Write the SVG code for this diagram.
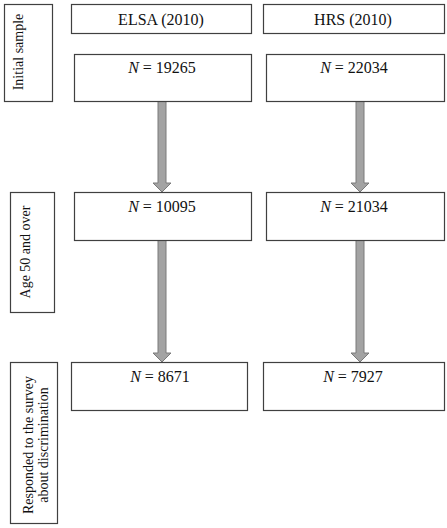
<svg xmlns="http://www.w3.org/2000/svg" width="447" height="528" viewBox="0 0 447 528">
<style>
.box{fill:#fff;stroke:#404040;stroke-width:1.2}
.t{font-family:"Liberation Serif","Times New Roman",serif;font-size:16px;fill:#111;text-anchor:middle}
.v{font-family:"Liberation Serif","Times New Roman",serif;font-size:14px;fill:#111;text-anchor:middle}
.arr{fill:#a3a3a3;stroke:#7a7a7a;stroke-width:1}
</style>
<rect width="447" height="528" fill="#fff"/>
<g id="connectors">
<polygon class="arr" points="158,101 166,101 166,183 171,183 162,192 153,183 158,183"/>
<polygon class="arr" points="356,101 364,101 364,183 369,183 360,192 351,183 356,183"/>
<polygon class="arr" points="158,240 166,240 166,353 171,353 162,362 153,353 158,353"/>
<polygon class="arr" points="356,240 364,240 364,353 369,353 360,362 351,353 356,353"/>
</g>
<g id="label-initial">
<rect class="box" x="4.5" y="4.5" width="48" height="97"/>
<text class="v" transform="translate(23,52) rotate(-90)">Initial sample</text>
</g>
<g id="label-age">
<rect class="box" x="10.5" y="192.5" width="44" height="120"/>
<text class="v" transform="translate(30,252) rotate(-90)">Age 50 and over</text>
</g>
<g id="label-responded">
<rect class="box" x="10.5" y="362.5" width="47" height="161"/>
<text class="v" transform="translate(33,445) rotate(-90)">Responded to the survey</text>
<text class="v" transform="translate(48,445) rotate(-90)">about discrimination</text>
</g>
<g id="elsa-header">
<rect class="box" x="71.5" y="4.5" width="180" height="29"/>
<text class="t" x="161" y="25">ELSA (2010)</text>
</g>
<g id="hrs-header">
<rect class="box" x="263.5" y="4.5" width="181" height="29"/>
<text class="t" x="353" y="25">HRS (2010)</text>
</g>
<g id="elsa-initial">
<rect class="box" x="74.5" y="54.5" width="177" height="47"/>
<text class="t" x="162" y="73"><tspan font-style="italic">N</tspan> = 19265</text>
</g>
<g id="hrs-initial">
<rect class="box" x="266.5" y="54.5" width="178" height="47"/>
<text class="t" x="354" y="73"><tspan font-style="italic">N</tspan> = 22034</text>
</g>
<g id="elsa-age">
<rect class="box" x="74.5" y="192.5" width="177" height="48"/>
<text class="t" x="162" y="212"><tspan font-style="italic">N</tspan> = 10095</text>
</g>
<g id="hrs-age">
<rect class="box" x="266.5" y="192.5" width="178" height="48"/>
<text class="t" x="354" y="212"><tspan font-style="italic">N</tspan> = 21034</text>
</g>
<g id="elsa-resp">
<rect class="box" x="71.5" y="362.5" width="176" height="48"/>
<text class="t" x="160" y="382"><tspan font-style="italic">N</tspan> = 8671</text>
</g>
<g id="hrs-resp">
<rect class="box" x="263.5" y="362.5" width="181" height="48"/>
<text class="t" x="353" y="382"><tspan font-style="italic">N</tspan> = 7927</text>
</g>
</svg>
